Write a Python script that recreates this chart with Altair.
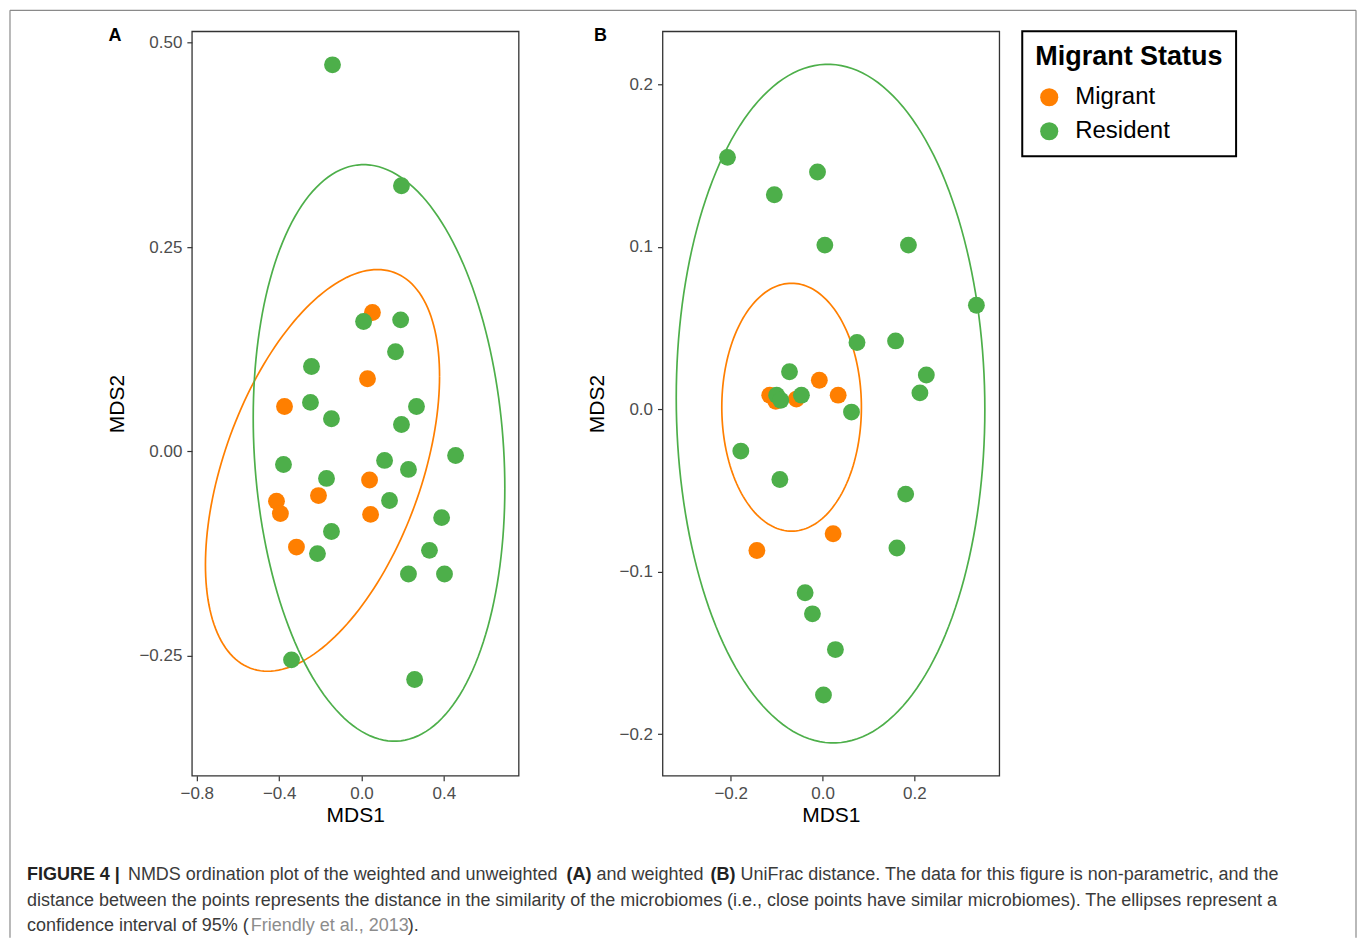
import altair as alt
import numpy as np
import pandas as pd

# ---------------- data ----------------
# Panel A
a_mig_x = [0.053, 0.029, -0.374, -0.413, -0.394, -0.209, 0.039, 0.044, -0.316]
a_mig_y = [0.170, 0.089, 0.055, -0.061, -0.076, -0.054, -0.035, -0.077, -0.117]
a_res_x = [-0.141, 0.194, 0.010, 0.190, 0.165, -0.243, -0.248, -0.146, 0.267, 0.194,
           -0.379, 0.112, 0.228, 0.457, -0.170, 0.136, -0.146, 0.389, -0.214, 0.330,
           0.228, 0.403, -0.340, 0.258]
a_res_y = [0.473, 0.325, 0.159, 0.161, 0.122, 0.104, 0.060, 0.040, 0.055, 0.033,
           -0.016, -0.011, -0.022, -0.005, -0.033, -0.060, -0.098, -0.081, -0.125, -0.121,
           -0.150, -0.150, -0.255, -0.279]
# Panel B
b_mig_x = [-0.115, -0.102, -0.057, -0.007, 0.034, 0.023, -0.143]
b_mig_y = [0.0086, 0.0049, 0.0062, 0.0178, 0.0086, -0.0767, -0.087]
b_res_x = [-0.207, -0.105, -0.011, 0.005, 0.187, 0.335, 0.075, 0.159, -0.072, 0.226,
           0.212, -0.100, -0.091, -0.046, 0.063, -0.178, -0.093, 0.181, 0.162, -0.038,
           -0.022, 0.028, 0.002]
b_res_y = [0.155, 0.132, 0.146, 0.101, 0.101, 0.064, 0.041, 0.042, 0.023, 0.021,
           0.010, 0.0086, 0.0055, 0.0086, -0.0018, -0.0258, -0.0433, -0.0523, -0.0855, -0.113,
           -0.126, -0.148, -0.176]

# 95% ellipses: centre x, centre y, half x-extent, half y-extent, phase (deg)
ell_a = {"Migrant": (-0.1895, -0.0232, 0.5685, 0.2457, 62.0),
         "Resident": (0.085, -0.0018, 0.611, 0.3527, 97.0)}
ell_b = {"Migrant": (-0.0674, 0.0012, 0.152, 0.0763, 90.0),
         "Resident": (0.0174, 0.0034, 0.336, 0.2089, 91.0)}

statuses = ["Migrant", "Resident"]
colors = ["#FF7F00", "#4DAF4A"]

a_xticks = [-0.8, -0.4, 0.0, 0.4]
a_yticks = [-0.25, 0.0, 0.25, 0.50]
b_xticks = [-0.2, 0.0, 0.2]
b_yticks = [-0.2, -0.1, 0.0, 0.1, 0.2]

caption_rows = [
    ("FIGURE 4 |", 25, 873, "bold", "#222222"),
    ("NMDS ordination plot of the weighted and unweighted", 126, 873, "normal", "#3a3a3a"),
    ("(A)", 565, 873, "bold", "#222222"),
    ("and weighted", 595, 873, "normal", "#3a3a3a"),
    ("(B)", 709, 873, "bold", "#222222"),
    ("UniFrac distance. The data for this figure is non-parametric, and the", 739, 873, "normal", "#3a3a3a"),
    ("distance between the points represents the distance in the similarity of the microbiomes "
     "(i.e., close points have similar microbiomes). The ellipses represent a", 25, 899, "normal", "#3a3a3a"),
    ("confidence interval of 95% (", 25, 924, "normal", "#3a3a3a"),
    ("Friendly et al., 2013", 249, 924, "normal", "#8c8c8c"),
    (").", 406, 924, "normal", "#3a3a3a"),
]

# ---------------- layout constants ----------------
OX, OY = 190, 29          # page position of panel A plot origin
BX = 661                  # page x of panel B plot origin
PH = 745                  # plot height
CAP_Y = 793               # page y of caption block origin


def pts_df(mx, my, rx, ry):
    return pd.DataFrame({
        "x": list(mx) + list(rx),
        "y": list(my) + list(ry),
        "status": ["Migrant"] * len(mx) + ["Resident"] * len(rx),
    })


def ell_df(params):
    rows = []
    t = np.linspace(0, 2 * np.pi, 181)
    for s, (cx, cy, ax, by, ph) in params.items():
        xs = cx + ax * np.cos(t)
        ys = cy + by * np.cos(t - np.radians(ph))
        for i, (xv, yv) in enumerate(zip(xs, ys)):
            rows.append({"x": xv, "y": yv, "group": s, "i": i})
    return pd.DataFrame(rows)


color_scale = alt.Scale(domain=statuses, range=colors)

legend_b = alt.Legend(
    title="Migrant Status", orient="right", offset=23,
    titleFontSize=27, titleFontWeight="bold", titleColor="black", titleLimit=400,
    labelFontSize=24, labelColor="black", labelLimit=300,
    symbolSize=330, symbolType="circle", symbolStrokeWidth=0,
    strokeColor="black", fillColor="white",
    padding=13, rowPadding=10, titlePadding=14,
    labelOffset=14, symbolOffset=2,
)


def panel(pdf, edf, xdom, ydom, xt, yt, xfmt, yfmt, letter, lx, w, legend):
    x = alt.X("x:Q", scale=alt.Scale(domain=xdom, nice=False, zero=False),
              axis=alt.Axis(values=xt, format=xfmt, title="MDS1"))
    y = alt.Y("y:Q", scale=alt.Scale(domain=ydom, nice=False, zero=False),
              axis=alt.Axis(values=yt, format=yfmt, title="MDS2"))
    line_layers = []
    for s, c in zip(statuses, colors):
        line_layers.append(
            alt.Chart(edf).transform_filter(alt.datum.group == s)
            .mark_line(strokeWidth=1.7, color=c)
            .encode(x=x, y=y, order="i:Q")
        )
    if legend is None:
        col = alt.Color("status:N", scale=color_scale, legend=None)
    else:
        col = alt.Color("status:N", scale=color_scale, legend=legend)
    points = alt.Chart(pdf).mark_circle(size=285, opacity=1).encode(x=x, y=y, color=col)
    lab = alt.Chart(pd.DataFrame({"t": [letter]})).mark_text(
        fontWeight="bold", fontSize=18, align="center", baseline="middle", color="black"
    ).encode(x=alt.value(lx), y=alt.value(34 - OY), text="t:N")
    return alt.layer(*line_layers, points, lab).properties(width=w, height=PH)


panel_a = panel(pts_df(a_mig_x, a_mig_y, a_res_x, a_res_y), ell_df(ell_a),
                [-0.824, 0.763], [-0.3968, 0.514], a_xticks, a_yticks, ".1f", ".2f",
                "A", 113 - OX, 327, None)
panel_b = panel(pts_df(b_mig_x, b_mig_y, b_res_x, b_res_y), ell_df(ell_b),
                [-0.3485, 0.3848], [-0.2257, 0.2326], b_xticks, b_yticks, ".1f", ".1f",
                "B", 599 - BX, 337, legend_b)

cap = pd.DataFrame(caption_rows, columns=["text", "px", "py", "weight", "col"])
cap["px"] = cap["px"] - OX
cap["py"] = cap["py"] - CAP_Y

base_cap = alt.Chart(cap).encode(
    x=alt.X("px:Q", scale=None, axis=None),
    y=alt.Y("py:Q", scale=None, axis=None),
    text="text:N",
    color=alt.Color("col:N", scale=None, legend=None),
)
cap_bold = base_cap.transform_filter(alt.datum.weight == "bold").mark_text(
    align="left", baseline="middle", fontSize=18, fontWeight="bold")
cap_norm = base_cap.transform_filter(alt.datum.weight == "normal").mark_text(
    align="left", baseline="middle", fontSize=18)

frame = pd.DataFrame({
    "x1": [8 - OX, 1355 - OX, 8 - OX],
    "x2": [8 - OX, 1355 - OX, 1355 - OX],
    "y1": [8 - CAP_Y, 8 - CAP_Y, 8 - CAP_Y],
    "y2": [936 - CAP_Y, 936 - CAP_Y, 8 - CAP_Y],
})
frame_rules = alt.Chart(frame).mark_rule(color="#8a8a8a", strokeWidth=1.2).encode(
    x=alt.X("x1:Q", scale=None, axis=None), x2="x2:Q",
    y=alt.Y("y1:Q", scale=None, axis=None), y2="y2:Q",
)

caption = alt.layer(frame_rules, cap_bold, cap_norm).properties(
    width=1, height=936 - CAP_Y, view=alt.ViewBackground(stroke="transparent"))

chart = alt.concat(
    panel_a, panel_b, caption, columns=2, bounds="flush",
    spacing={"row": CAP_Y - (OY + PH), "column": BX - 517},
).resolve_scale(color="independent").properties(
    padding={"left": 8, "top": 8, "right": 0, "bottom": 0}
).configure(font="Liberation Sans").configure_view(
    stroke="#333333", strokeWidth=1.3
).configure_axis(
    grid=False, domain=False, labelFontSize=17, labelColor="#4d4d4d",
    tickColor="#333333", tickSize=5, tickWidth=1.2, labelPadding=5,
    titleFontSize=21, titleFontWeight="normal", titleColor="black",
).configure_axisX(titlePadding=3).configure_axisY(titlePadding=11).configure_legend(
    strokeWidth=2
)

chart.save("out.html", embed_options={"renderer": "svg", "actions": False})
